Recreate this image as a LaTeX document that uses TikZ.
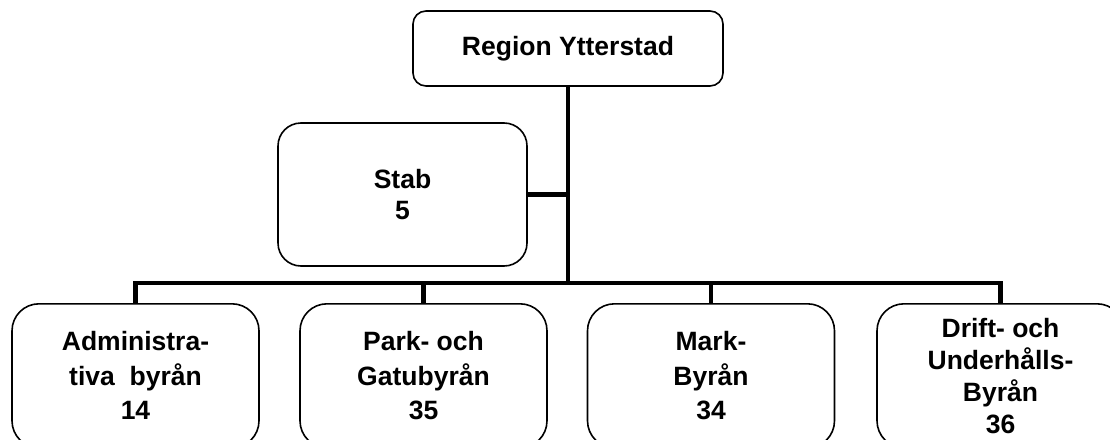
\documentclass[tikz,border=0pt]{standalone}
\usepackage{fontspec}
\setmainfont{Liberation Sans}
\begin{document}
\begin{tikzpicture}[x=1pt,y=-1pt,
  orgbox/.style={draw=black,line width=1.6pt,fill=white,align=center,
    font=\bfseries\fontsize{26.5}{34.5}\selectfont,inner sep=0pt},
  topbox/.style={orgbox,rounded corners=13pt,minimum width=310pt,minimum height=75pt},
  stabbox/.style={orgbox,rounded corners=23pt,minimum width=249pt,minimum height=143pt,
    font=\bfseries\fontsize{26.5}{31.5}\selectfont},
  unitbox/.style={orgbox,rounded corners=27pt,minimum width=247pt,minimum height=144pt,anchor=north},
  link/.style={line width=4.8pt,black}]
\useasboundingbox (0,0) rectangle (1110,439);
\clip (0,0) rectangle (1110,439);

% organisation boxes
\node[topbox] (top) at (568,48.5) {Region Ytterstad};
\node[stabbox] (stab) at (402.5,194.5) {Stab\\5};
\node[unitbox] (adm) at (135.5,303) {Administra-\\tiva~ byrån\\14};
\node[unitbox] (park) at (423.5,303) {Park- och\\Gatubyrån\\35};
\node[unitbox] (mark) at (711,303) {Mark-\\Byrån\\34};
\node[unitbox,font=\bfseries\fontsize{26.5}{32}\selectfont] (drift) at (1000.5,303)
  {Drift- och\\Underhålls-\\Byrån\\36};

% connecting lines
\coordinate (bus) at (568,283);
\draw[link] (top.south) -- (bus);
\draw[link] (stab.east) -- (stab.east -| top.south);
\draw[link] (adm.north) |- (bus) -| (drift.north);
\draw[link] (park.north) -- (park.north |- bus);
\draw[link] (mark.north) -- (mark.north |- bus);
\end{tikzpicture}
\end{document}
